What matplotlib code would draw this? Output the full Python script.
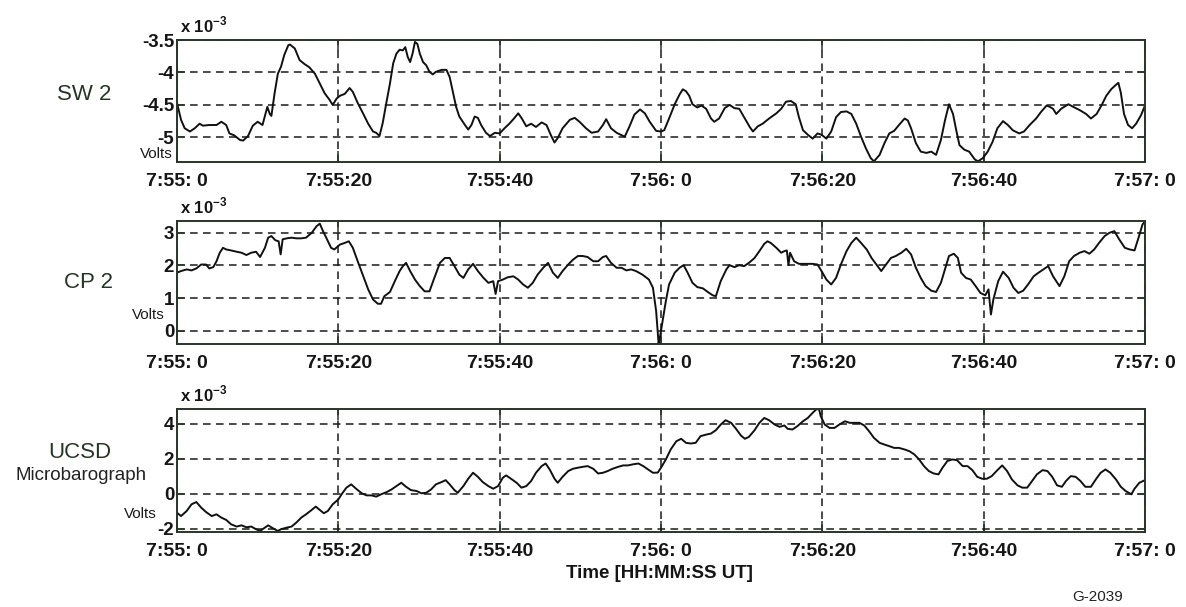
import matplotlib
matplotlib.use("Agg")
import matplotlib.pyplot as plt

plt.rcParams['font.family'] = ['Liberation Sans', 'DejaVu Sans']

# seconds after 7:55:00 UT, values in units of 1e-3 V
sw2_t = [0, 0.5, 0.95, 1.6, 2.2, 2.8, 3.2, 4.0, 4.9, 5.5, 6.1, 6.5, 7.1, 7.8, 8.2, 8.8, 9.4, 10.0,
         10.6, 11.2, 11.5, 11.7, 12.1, 12.5, 12.9, 13.3, 13.8, 14.0, 14.6, 15.2, 15.8, 16.4, 17.1,
         17.7, 18.3, 18.9, 19.3, 19.8, 20.2, 20.8, 21.4, 21.8, 22.4, 23.1, 23.7, 24.3, 24.7, 25.1,
         25.5, 25.95, 26.4, 26.8, 27.2, 27.6, 28.0, 28.3, 28.6, 28.9, 29.2, 29.5, 29.8, 30.1, 30.5,
         30.9, 31.3, 31.7, 32.1, 32.8, 33.4, 33.8, 34.2, 34.6, 35.0, 35.7, 36.1, 36.5, 36.9, 37.3,
         37.7, 38.3, 38.8, 39.4, 40.0, 40.6, 41.2, 41.7, 42.3, 42.7, 43.3, 43.9, 44.5, 45.2, 45.8,
         46.4, 46.8, 47.2, 47.8, 48.7, 49.3, 49.9, 50.7, 51.4, 52.2, 52.8, 53.2, 53.8, 54.5, 55.5,
         56.1, 56.7, 57.4, 58.0, 58.6, 59.4, 60.0, 60.4, 61.0, 61.7, 62.3, 62.7, 63.1, 63.5, 63.9,
         64.5, 65.0, 65.6, 66.2, 66.6, 67.2, 67.9, 68.5, 69.1, 69.7, 70.3, 71.0, 71.4, 72.0, 72.6,
         73.4, 74.3, 74.9, 75.5, 76.1, 76.7, 77.1, 77.6, 78.2, 78.8, 79.4, 79.9, 80.5, 81.1, 81.7,
         82.3, 83.0, 83.6, 84.2, 84.8, 85.4, 86.0, 86.4, 87.1, 87.7, 88.3, 88.9, 89.5, 90.2, 90.6,
         91.0, 91.6, 92.2, 92.9, 93.5, 94.1, 94.7, 95.2, 95.7, 96.2, 96.6, 97.0, 97.6, 98.2, 98.9,
         99.3, 99.9, 100.5, 101.1, 101.7, 102.4, 103.0, 103.6, 104.4, 105.0, 105.7, 106.5, 107.1,
         107.8, 108.2, 108.6, 109.0, 109.6, 110.5, 111.1, 111.9, 112.7, 113.3, 114.0, 114.6, 115.2,
         115.8, 116.4, 116.7, 117.0, 117.4, 117.9, 118.4, 118.9, 119.5, 120.0]
sw2_v = [-4.47, -4.73, -4.86, -4.91, -4.86, -4.79, -4.82, -4.81, -4.81, -4.76, -4.81, -4.94, -4.97,
         -5.04, -5.05, -4.98, -4.82, -4.76, -4.81, -4.53, -4.64, -4.67, -4.32, -4.02, -3.91, -3.73,
         -3.58, -3.57, -3.63, -3.81, -3.87, -3.92, -4.02, -4.17, -4.32, -4.42, -4.50, -4.40, -4.36,
         -4.33, -4.24, -4.30, -4.47, -4.64, -4.79, -4.91, -4.93, -4.98, -4.78, -4.47, -4.17, -3.86,
         -3.71, -3.65, -3.66, -3.61, -3.76, -3.84, -3.71, -3.53, -3.56, -3.71, -3.84, -3.89, -3.99,
         -4.03, -3.99, -3.96, -3.96, -4.07, -4.30, -4.53, -4.68, -4.81, -4.88, -4.81, -4.68, -4.70,
         -4.81, -4.93, -4.98, -4.93, -4.94, -4.86, -4.79, -4.72, -4.63, -4.70, -4.83, -4.79, -4.84,
         -4.77, -4.81, -4.98, -5.08, -5.01, -4.86, -4.73, -4.70, -4.76, -4.86, -4.93, -4.91, -4.81,
         -4.72, -4.86, -4.93, -4.99, -4.83, -4.65, -4.57, -4.63, -4.76, -4.90, -4.91, -4.89, -4.71,
         -4.49, -4.34, -4.26, -4.29, -4.36, -4.49, -4.54, -4.51, -4.56, -4.71, -4.76, -4.71, -4.55,
         -4.50, -4.55, -4.56, -4.69, -4.84, -4.91, -4.83, -4.79, -4.71, -4.63, -4.56, -4.45, -4.44,
         -4.49, -4.69, -4.89, -4.96, -5.02, -4.94, -4.96, -5.02, -4.91, -4.69, -4.61, -4.60, -4.64,
         -4.79, -4.99, -5.17, -5.32, -5.37, -5.27, -5.09, -4.94, -4.90, -4.81, -4.71, -4.74, -4.86,
         -5.09, -5.22, -5.24, -5.22, -5.27, -5.04, -4.74, -4.49, -4.64, -4.89, -5.12, -5.19, -5.22,
         -5.34, -5.37, -5.32, -5.22, -5.07, -4.86, -4.75, -4.81, -4.89, -4.94, -4.91, -4.81, -4.71,
         -4.61, -4.51, -4.53, -4.56, -4.64, -4.56, -4.49, -4.53, -4.58, -4.64, -4.71, -4.64, -4.51,
         -4.36, -4.26, -4.19, -4.16, -4.31, -4.64, -4.81, -4.86, -4.79, -4.66, -4.51]

cp2_t = [0, 0.5, 1.2, 1.8, 2.4, 3.0, 3.6, 4.0, 4.5, 4.9, 5.3, 5.7, 6.1, 6.7, 7.4, 8.0, 8.6, 9.2, 9.8,
         10.3, 10.9, 11.3, 11.7, 12.2, 12.6, 12.85, 13.1, 13.6, 14.2, 14.8, 15.4, 16.0, 16.7, 17.3,
         17.7, 18.1, 18.5, 19.1, 19.5, 20.2, 20.8, 21.3, 21.8, 22.4, 23.1, 23.7, 24.3, 24.9, 25.3,
         25.7, 26.4, 27.0, 27.6, 28.0, 28.4, 28.9, 29.5, 30.1, 30.7, 31.3, 31.9, 32.6, 33.2, 33.8,
         34.4, 35.0, 35.5, 36.1, 36.7, 37.3, 38.0, 38.6, 39.2, 39.5, 39.8, 40.4, 41.0, 41.7, 42.3,
         42.9, 43.5, 44.1, 44.7, 45.4, 46.0, 46.6, 47.2, 47.8, 48.5, 49.1, 49.7, 50.3, 50.9, 51.6,
         52.2, 52.8, 53.2, 53.8, 54.5, 55.1, 55.7, 56.3, 56.9, 57.7, 58.5, 59.0, 59.4, 59.7, 59.8,
         60.2, 60.6, 61.0, 61.7, 62.3, 62.8, 63.3, 63.9, 64.5, 65.2, 65.8, 66.4, 66.8, 67.4, 68.1,
         68.5, 69.1, 69.7, 70.3, 70.9, 71.6, 72.2, 72.8, 73.2, 73.6, 74.3, 74.9, 75.3, 75.6, 75.8,
         76.0, 76.5, 77.1, 77.9, 78.8, 79.4, 79.9, 80.5, 81.1, 81.7, 82.3, 83.0, 83.6, 84.2, 84.8,
         85.5, 86.1, 86.7, 87.3, 87.9, 88.5, 89.1, 89.8, 90.4, 91.0, 91.6, 92.2, 92.8, 93.5, 94.1,
         94.7, 95.2, 95.7, 96.3, 96.8, 97.2, 97.8, 98.4, 99.0, 99.6, 100.2, 100.6, 100.9, 101.2,
         101.8, 102.4, 103.1, 103.7, 104.3, 104.9, 105.5, 106.2, 106.8, 107.4, 108.0, 108.6, 109.4,
         110.0, 110.6, 111.2, 111.9, 112.5, 113.1, 113.7, 114.3, 115.0, 115.6, 116.2, 116.8, 117.5,
         118.1, 118.7, 119.2, 119.7, 120.0]
cp2_v = [1.78, 1.83, 1.88, 1.85, 1.91, 2.03, 2.03, 1.91, 1.95, 2.13, 2.39, 2.54, 2.49, 2.46, 2.42,
         2.39, 2.32, 2.39, 2.42, 2.26, 2.54, 2.85, 2.90, 2.77, 2.74, 2.34, 2.80, 2.83, 2.85, 2.83,
         2.83, 2.85, 3.00, 3.20, 3.28, 3.05, 2.85, 2.54, 2.49, 2.64, 2.69, 2.74, 2.54, 2.13, 1.67,
         1.27, 0.96, 0.83, 0.83, 1.06, 1.19, 1.52, 1.83, 1.98, 2.08, 1.83, 1.57, 1.37, 1.21, 1.21,
         1.62, 2.08, 2.23, 2.23, 1.98, 1.72, 1.62, 1.88, 2.05, 1.83, 1.62, 1.47, 1.52, 1.13, 1.52,
         1.57, 1.64, 1.67, 1.57, 1.42, 1.32, 1.47, 1.72, 1.93, 2.08, 1.78, 1.62, 1.83, 2.03, 2.18,
         2.29, 2.29, 2.26, 2.13, 2.13, 2.26, 2.29, 2.08, 1.93, 1.93, 1.85, 1.88, 1.83, 1.72, 1.57,
         1.32, 0.60, -0.38, -0.30, 0.30, 0.91, 1.42, 1.78, 1.93, 2.01, 1.78, 1.47, 1.34, 1.30, 1.19,
         1.09, 1.06, 1.52, 1.88, 2.01, 1.95, 2.01, 1.98, 2.08, 2.23, 2.44, 2.66, 2.74, 2.69, 2.54,
         2.39, 2.44, 2.46, 2.01, 2.39, 2.13, 2.05, 2.05, 2.05, 2.03, 1.83, 1.57, 1.42, 1.62, 2.03,
         2.44, 2.69, 2.85, 2.69, 2.49, 2.23, 2.03, 1.83, 2.03, 2.23, 2.29, 2.39, 2.51, 2.34, 1.93,
         1.62, 1.37, 1.23, 1.19, 1.47, 1.88, 2.29, 2.36, 2.23, 1.78, 1.62, 1.57, 1.37, 1.16, 1.09,
         1.27, 0.50, 0.96, 1.52, 1.81, 1.62, 1.32, 1.16, 1.23, 1.42, 1.67, 1.78, 1.88, 1.98, 1.67,
         1.37, 1.67, 2.13, 2.29, 2.39, 2.44, 2.36, 2.49, 2.69, 2.90, 3.00, 3.05, 2.80, 2.54, 2.49,
         2.46, 2.85, 3.26, 3.34]

ucsd_t = [0, 0.5, 1.2, 1.8, 2.4, 3.0, 3.6, 4.3, 4.9, 5.5, 6.1, 6.7, 7.4, 8.0, 8.6, 9.2, 9.8, 10.3,
          10.9, 11.3, 11.9, 12.5, 12.9, 13.6, 14.2, 14.8, 15.4, 16.0, 16.7, 17.2, 17.7, 18.2, 18.7,
          19.3, 20.0, 20.4, 21.0, 21.6, 22.2, 22.9, 23.5, 24.1, 24.7, 25.3, 26.0, 26.6, 27.2, 27.8,
          28.4, 29.0, 29.7, 30.3, 30.9, 31.5, 32.1, 32.8, 33.3, 33.8, 34.4, 34.8, 35.5, 36.1, 36.7,
          37.3, 37.9, 38.6, 39.2, 39.8, 40.4, 40.8, 41.4, 42.1, 42.7, 43.3, 43.9, 44.5, 45.2, 45.7,
          46.2, 46.8, 47.2, 47.8, 48.5, 49.1, 49.7, 50.3, 50.9, 51.6, 52.2, 52.8, 53.4, 54.0, 54.7,
          55.3, 55.9, 56.5, 57.2, 57.8, 58.4, 59.0, 59.6, 60.0, 60.6, 61.2, 61.9, 62.5, 63.1, 63.7,
          64.3, 64.9, 65.6, 66.2, 66.8, 67.4, 68.0, 68.7, 69.3, 69.9, 70.4, 70.9, 71.6, 72.2, 72.8,
          73.4, 74.1, 74.7, 75.3, 75.7, 76.3, 76.9, 77.6, 78.2, 78.8, 79.3, 79.6, 79.8, 80.3, 80.9,
          81.5, 82.1, 82.8, 83.4, 84.0, 84.6, 85.2, 85.8, 86.4, 87.1, 87.7, 88.3, 88.9, 89.5, 90.2,
          90.8, 91.4, 92.0, 92.6, 93.2, 93.8, 94.4, 94.9, 95.5, 96.1, 96.7, 97.4, 98.0, 98.6, 99.2,
          99.8, 100.4, 101.0, 101.7, 102.3, 102.9, 103.5, 104.2, 104.8, 105.4, 106.0, 106.6, 107.3,
          107.9, 108.5, 109.1, 109.7, 110.2, 110.8, 111.4, 112.0, 112.6, 113.3, 113.9, 114.5, 115.1,
          115.7, 116.4, 117.0, 117.6, 118.3, 118.7, 119.3, 120.0]
ucsd_v = [-1.09, -1.28, -0.99, -0.61, -0.48, -0.80, -1.05, -1.28, -1.18, -1.37, -1.50, -1.75, -1.88,
          -1.81, -1.92, -1.88, -2.03, -2.13, -1.94, -1.81, -1.98, -2.13, -2.03, -1.94, -1.88, -1.65,
          -1.37, -1.18, -0.93, -0.74, -0.93, -1.12, -0.99, -0.61, -0.33, -0.04, 0.34, 0.53, 0.28,
          0.02, -0.10, -0.10, -0.17, -0.04, 0.09, 0.24, 0.43, 0.62, 0.39, 0.20, 0.15, 0.02, 0.05,
          0.24, 0.53, 0.66, 0.77, 0.53, 0.20, 0.05, 0.43, 0.85, 1.19, 0.96, 0.66, 0.43, 0.28, 0.43,
          0.91, 1.04, 0.85, 0.62, 0.34, 0.43, 0.72, 1.19, 1.57, 1.72, 1.38, 0.85, 0.62, 0.96, 1.29,
          1.42, 1.48, 1.53, 1.57, 1.42, 1.15, 1.19, 1.29, 1.42, 1.53, 1.61, 1.61, 1.67, 1.72, 1.57,
          1.38, 1.19, 1.20, 1.48, 1.95, 2.52, 2.99, 3.13, 2.90, 2.86, 2.90, 3.28, 3.37, 3.43, 3.62,
          3.94, 4.19, 4.04, 3.70, 3.32, 3.13, 3.24, 3.62, 4.04, 4.32, 4.19, 3.94, 3.81, 3.89, 3.70,
          3.66, 3.85, 4.13, 4.32, 4.61, 4.83, 4.80, 4.42, 3.94, 3.75, 3.75, 3.94, 4.13, 4.04, 4.04,
          4.04, 3.89, 3.56, 3.18, 2.90, 2.80, 2.71, 2.61, 2.61, 2.52, 2.42, 2.24, 1.95, 1.57, 1.29,
          1.15, 1.10, 1.48, 1.86, 1.95, 1.91, 1.57, 1.57, 1.34, 0.96, 0.85, 0.85, 1.00, 1.34, 1.61,
          1.29, 0.81, 0.47, 0.34, 0.34, 0.72, 1.10, 1.34, 1.29, 0.96, 0.47, 0.39, 0.72, 1.00, 0.96,
          0.72, 0.39, 0.39, 0.81, 1.19, 1.38, 1.19, 0.81, 0.39, 0.15, -0.04, 0.28, 0.62, 0.77]

time_ticks = [0, 20, 40, 60, 80, 100, 120]
time_labels = ['7:55: 0', '7:55:20', '7:55:40', '7:56: 0', '7:56:20', '7:56:40', '7:57: 0']

panels = [
    ('SW 2', sw2_t, sw2_v, (-5.38, -3.5), [-5, -4.5, -4, -3.5], ['-5', '-4.5', '-4', '-3.5']),
    ('CP 2', cp2_t, cp2_v, (-0.40, 3.36), [0, 1, 2, 3], ['0', '1', '2', '3']),
    ('UCSD', ucsd_t, ucsd_v, (-2.19, 4.83), [-2, 0, 2, 4], ['-2', '0', '2', '4']),
]

W, H = 1186, 607
fig = plt.figure(figsize=(W / 100, H / 100), dpi=100)

frame_col = '#2a352a'
label_col = '#263626'
# top and bottom pixel rows of each panel
boxes = [(40, 162), (221, 344), (409, 532)]
left, right = 177, 1145

for (name, t, v, ylim, yt, ytl), (top, bot) in zip(panels, boxes):
    ax = fig.add_axes([left / W, 1 - bot / H, (right - left) / W, (bot - top) / H])
    ax.plot(t, v, color='#111111', lw=1.4)
    ax.set_xlim(0, 120)
    ax.set_ylim(*ylim)
    ax.set_xticks(time_ticks)
    ax.set_xticklabels(time_labels, fontsize=14, fontweight='bold', color='#151515')
    ax.set_yticks(yt)
    ax.set_yticklabels(ytl, fontsize=13.5, fontweight='bold', color='#151515')
    ax.tick_params(axis='x', direction='in', length=8, width=1.1, top=True, pad=8,
                   color=frame_col)
    ax.tick_params(axis='y', direction='in', length=6, width=1.1, right=True, pad=2,
                   color=frame_col)
    ax.grid(True, color='#1a1a1a', linestyle=(0, (5, 3.5)), linewidth=1.1)
    for s in ax.spines.values():
        s.set_color(frame_col)
        s.set_linewidth(1.4)
    ax.text(0.003, 1.04, r'x 10$^{\mathregular{-3}}$', transform=ax.transAxes,
            fontsize=12, fontweight='bold', ha='left', va='bottom', color='#151515')

# channel names and units
fig.text(84 / W, 1 - 95 / H, 'SW 2', fontsize=16, ha='center', va='center', color=label_col)
fig.text(88 / W, 1 - 283 / H, 'CP 2', fontsize=16, ha='center', va='center', color=label_col)
fig.text(80 / W, 1 - 452 / H, 'UCSD', fontsize=16, ha='center', va='center', color=label_col)
fig.text(81 / W, 1 - 476 / H, 'Microbarograph', fontsize=13.5, ha='center', va='center',
         color='#222222')
for x, y in [(156, 154), (148, 315), (140, 514)]:
    fig.text(x / W, 1 - y / H, 'Volts', fontsize=11, ha='center', va='center', color='#1a1a1a')

fig.text(659 / W, 1 - 573 / H, 'Time [HH:MM:SS UT]', fontsize=13.5, fontweight='bold',
         ha='center', va='center', color='#151515')
fig.text(1098 / W, 1 - 597 / H, 'G-2039', fontsize=11, ha='center', va='center',
         color='#222222')

fig.savefig('out.png', dpi=100, facecolor='white')
